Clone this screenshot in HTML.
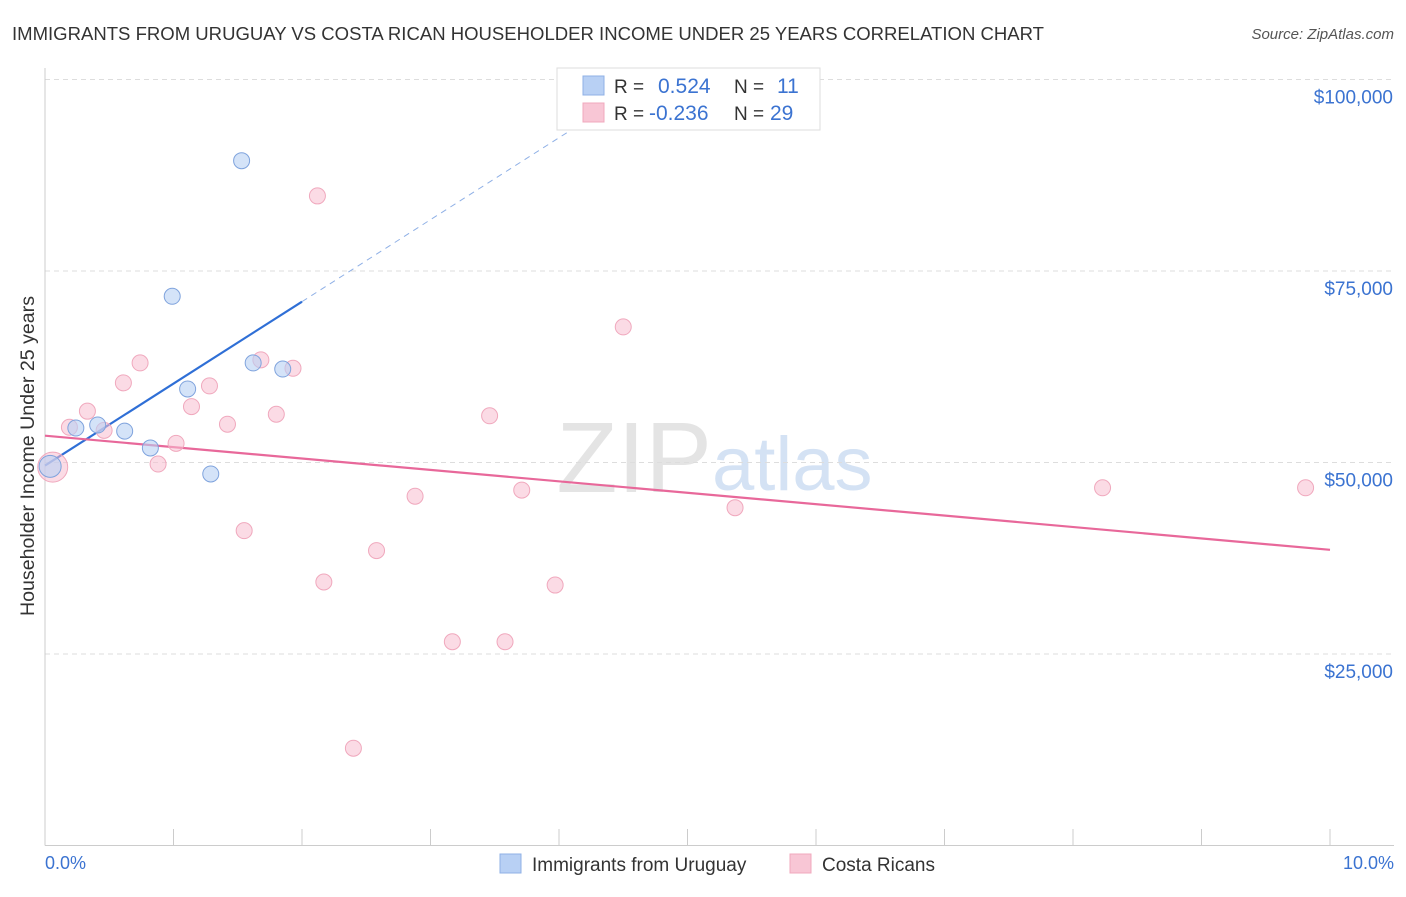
<!DOCTYPE html>
<html><head><meta charset="utf-8"><style>
body{margin:0;background:#fff;font-family:"Liberation Sans",sans-serif;}
svg text{font-family:"Liberation Sans",sans-serif;}
</style></head><body>
<svg id="c" width="1406" height="892">
<text x="12" y="40" font-size="18" fill="#333" textLength="1032" lengthAdjust="spacingAndGlyphs">IMMIGRANTS FROM URUGUAY VS COSTA RICAN HOUSEHOLDER INCOME UNDER 25 YEARS CORRELATION CHART</text>
<text x="1394" y="39" font-size="15" fill="#555" font-style="italic" text-anchor="end">Source: ZipAtlas.com</text>
<text x="712" y="492" font-size="100" fill="#e4e4e4" font-family="Liberation Serif" text-anchor="end">ZIP</text>
<text x="712" y="490" font-size="76" fill="#d4e2f4">atlas</text>
<g id="grid"></g><g id="axes"></g><g id="lines"></g><g id="pts"></g>
<text transform="translate(34,456) rotate(-90)" font-size="19" fill="#333" text-anchor="middle" textLength="320" lengthAdjust="spacingAndGlyphs">Householder Income Under 25 years</text>
<text x="45" y="869" font-size="18" fill="#3b73d1">0.0%</text>
<text x="1394" y="869" font-size="18" fill="#3b73d1" text-anchor="end">10.0%</text>
<g>
<rect x="557" y="68" width="263" height="62" fill="#fff" stroke="#ddd"/>
<rect x="583" y="76" width="21" height="19" fill="#b8d0f4" stroke="#8fb0e6"/>
<rect x="583" y="103" width="21" height="19" fill="#f8c6d5" stroke="#f0a8bd"/>
<text x="614" y="93" font-size="19" fill="#333">R = </text><text x="658" y="93" font-size="21" fill="#3b73d1">0.524</text>
<text x="734" y="93" font-size="19" fill="#333">N = </text><text x="777" y="93" font-size="21" fill="#3b73d1">11</text>
<text x="614" y="120" font-size="19" fill="#333">R = </text><text x="649" y="120" font-size="21" fill="#3b73d1">-0.236</text>
<text x="734" y="120" font-size="19" fill="#333">N = </text><text x="770" y="120" font-size="21" fill="#3b73d1">29</text>
</g>
<g>
<rect x="500" y="854" width="21" height="19" fill="#b8d0f4" stroke="#8fb0e6"/>
<text x="532" y="871" font-size="19" fill="#333">Immigrants from Uruguay</text>
<rect x="790" y="854" width="21" height="19" fill="#f8c6d5" stroke="#f0a8bd"/>
<text x="822" y="871" font-size="19" fill="#333">Costa Ricans</text>
</g>
</svg>
<script>
const yTicks=[25000,50000,75000,100000];
const yTickLabels=["$25,000","$50,000","$75,000","$100,000"];
const xTicks=[0,1,2,3,4,5,6,7,8,9,10];
const blueX=[1.53,0.99,1.62,1.85,1.11,0.41,0.62,0.24,0.82,1.29,0.04];
const blueY=[89400,71700,63000,62200,59600,54900,54100,54500,51900,48500,49500];
const pinkX=[2.12,4.50,0.74,1.68,1.93,0.61,1.28,1.14,0.33,1.80,3.46,1.42,0.19,0.46,1.02,0.88,0.06,2.88,3.71,5.37,8.23,9.81,1.55,2.58,2.17,3.97,3.17,3.58,2.40];
const pinkY=[84800,67700,63000,63400,62300,60400,60000,57300,56700,56300,56100,55000,54600,54200,52500,49800,49400,45600,46400,44100,46700,46700,41100,38500,34400,34000,26600,26600,12700];
const blueTrend=[49600,71000];  // at x=0 and x=2
const pinkTrend=[53500,38600];  // at x=0 and x=10
const X=v=>45+v*128.5, Y=v=>845.5-v*191.5/25000;
const NS="http://www.w3.org/2000/svg";
function mk(t,a,p){const e=document.createElementNS(NS,t);for(const k in a)e.setAttribute(k,a[k]);document.getElementById(p).appendChild(e);return e;}
yTicks.forEach((v,i)=>{
 const l=mk('line',{x1:45,x2:1394,y1:Y(v),y2:Y(v),stroke:'#ddd','stroke-dasharray':'5,4'},'grid');
 
 
 const t=mk('text',{x:1393,y:Y(v)+24,'font-size':19,fill:'#3b73d1','text-anchor':'end'},'grid');t.textContent=yTickLabels[i];
 
 
});
const ax=mk('line',{x1:45,x2:1394,y1:845.5,y2:845.5,stroke:'#ccc'},'axes');


const ay=mk('line',{x1:45,x2:45,y1:68,y2:845.5,stroke:'#ccc'},'axes');


xTicks.forEach(v=>{const t=mk('line',{x1:X(v),x2:X(v),y1:829,y2:845.5,stroke:'#ccc'},'axes');
 
 });
const bs=(blueTrend[1]-blueTrend[0])/2;
const bd=mk('line',{x1:X(2),y1:Y(blueTrend[1]),x2:X(4.4),y2:Y(blueTrend[0]+bs*4.4),stroke:'#8fb0e6','stroke-dasharray':'6,5','stroke-width':1},'lines');


const bl=mk('line',{x1:X(0),y1:Y(blueTrend[0]),x2:X(2),y2:Y(blueTrend[1]),stroke:'#2f6fd6','stroke-width':2.2},'lines');


const pl=mk('line',{x1:X(0),y1:Y(pinkTrend[0]),x2:X(10),y2:Y(pinkTrend[1]),stroke:'#e8689a','stroke-width':2.2},'lines');


pinkX.forEach((x,i)=>{const c=mk('circle',{cx:X(x),cy:Y(pinkY[i]),r:i==16?15:8,fill:'rgba(248,190,208,0.55)',stroke:'#f0a8bd','stroke-width':1},'pts');
 
 });
blueX.forEach((x,i)=>{const c=mk('circle',{cx:X(x),cy:Y(blueY[i]),r:i==10?11:8,fill:'rgba(184,208,244,0.6)',stroke:'#7fa3dd','stroke-width':1},'pts');
 
 });
</script>
</body></html>
